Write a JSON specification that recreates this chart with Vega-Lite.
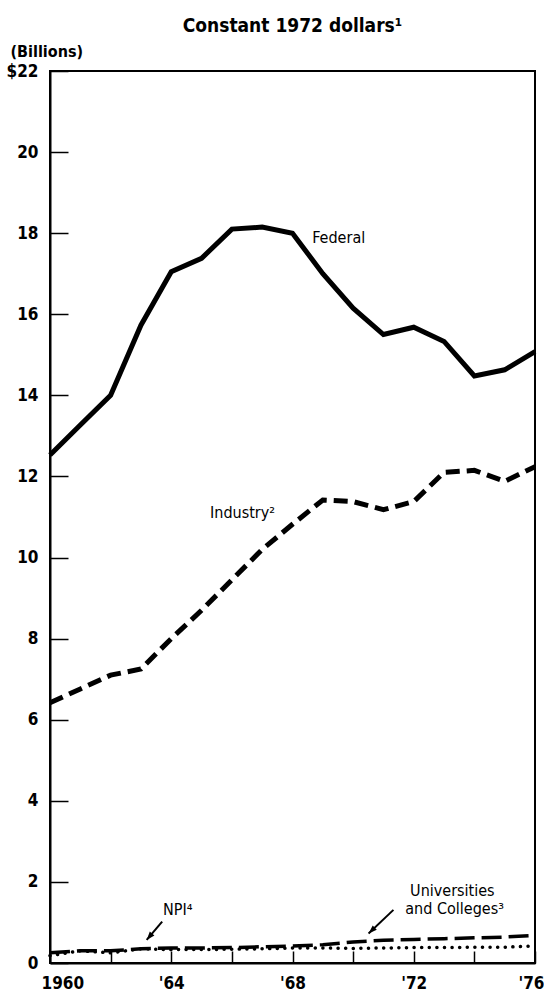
{
  "$schema": "https://vega.github.io/schema/vega-lite/v6.json",
  "width": 485,
  "height": 892,
  "autosize": {"type": "none"},
  "padding": {"left": 50, "top": 71, "right": 9, "bottom": 30},
  "background": "white",
  "title": {
    "text": "Constant 1972 dollars¹",
    "font": "DejaVu Sans Condensed, DejaVu Sans, sans-serif",
    "fontSize": 19,
    "fontWeight": "bold",
    "color": "black",
    "anchor": "middle",
    "baseline": "alphabetic",
    "offset": -8
  },
  "config": {
    "view": {"stroke": "black", "strokeWidth": 2},
    "font": "DejaVu Sans Condensed, DejaVu Sans, sans-serif",
    "axis": {
      "grid": false,
      "domainColor": "black",
      "domainWidth": 2,
      "tickColor": "black",
      "tickWidth": 1.5,
      "labelColor": "black",
      "labelFont": "DejaVu Sans Condensed, DejaVu Sans, sans-serif",
      "labelFontSize": 17,
      "labelFontWeight": "bold",
      "titleColor": "black",
      "titleFont": "DejaVu Sans Condensed, DejaVu Sans, sans-serif",
      "titleFontSize": 16,
      "titleFontWeight": "bold"
    }
  },
  "datasets": {
    "rd": [
      {"series": "Federal", "year": 1960, "value": 12.53},
      {"series": "Federal", "year": 1961, "value": 13.27},
      {"series": "Federal", "year": 1962, "value": 14.0},
      {"series": "Federal", "year": 1963, "value": 15.73},
      {"series": "Federal", "year": 1964, "value": 17.05},
      {"series": "Federal", "year": 1965, "value": 17.38},
      {"series": "Federal", "year": 1966, "value": 18.1},
      {"series": "Federal", "year": 1967, "value": 18.15},
      {"series": "Federal", "year": 1968, "value": 18.0},
      {"series": "Federal", "year": 1969, "value": 17.0},
      {"series": "Federal", "year": 1970, "value": 16.15},
      {"series": "Federal", "year": 1971, "value": 15.5},
      {"series": "Federal", "year": 1972, "value": 15.68},
      {"series": "Federal", "year": 1973, "value": 15.33},
      {"series": "Federal", "year": 1974, "value": 14.48},
      {"series": "Federal", "year": 1975, "value": 14.63},
      {"series": "Federal", "year": 1976, "value": 15.08},
      {"series": "Industry", "year": 1960, "value": 6.42},
      {"series": "Industry", "year": 1961, "value": 6.76},
      {"series": "Industry", "year": 1962, "value": 7.1},
      {"series": "Industry", "year": 1963, "value": 7.25},
      {"series": "Industry", "year": 1964, "value": 8.0},
      {"series": "Industry", "year": 1965, "value": 8.7},
      {"series": "Industry", "year": 1966, "value": 9.45},
      {"series": "Industry", "year": 1967, "value": 10.2},
      {"series": "Industry", "year": 1968, "value": 10.82},
      {"series": "Industry", "year": 1969, "value": 11.42},
      {"series": "Industry", "year": 1970, "value": 11.38},
      {"series": "Industry", "year": 1971, "value": 11.18},
      {"series": "Industry", "year": 1972, "value": 11.38},
      {"series": "Industry", "year": 1973, "value": 12.1},
      {"series": "Industry", "year": 1974, "value": 12.15},
      {"series": "Industry", "year": 1975, "value": 11.88},
      {"series": "Industry", "year": 1976, "value": 12.24},
      {"series": "Universities and Colleges", "year": 1960, "value": 0.25},
      {"series": "Universities and Colleges", "year": 1961, "value": 0.3},
      {"series": "Universities and Colleges", "year": 1962, "value": 0.3},
      {"series": "Universities and Colleges", "year": 1963, "value": 0.35},
      {"series": "Universities and Colleges", "year": 1964, "value": 0.37},
      {"series": "Universities and Colleges", "year": 1965, "value": 0.37},
      {"series": "Universities and Colleges", "year": 1966, "value": 0.38},
      {"series": "Universities and Colleges", "year": 1967, "value": 0.4},
      {"series": "Universities and Colleges", "year": 1968, "value": 0.42},
      {"series": "Universities and Colleges", "year": 1969, "value": 0.45},
      {"series": "Universities and Colleges", "year": 1970, "value": 0.52},
      {"series": "Universities and Colleges", "year": 1971, "value": 0.56},
      {"series": "Universities and Colleges", "year": 1972, "value": 0.58},
      {"series": "Universities and Colleges", "year": 1973, "value": 0.6},
      {"series": "Universities and Colleges", "year": 1974, "value": 0.62},
      {"series": "Universities and Colleges", "year": 1975, "value": 0.64},
      {"series": "Universities and Colleges", "year": 1976, "value": 0.68},
      {"series": "NPI", "year": 1960, "value": 0.18},
      {"series": "NPI", "year": 1961, "value": 0.3},
      {"series": "NPI", "year": 1962, "value": 0.25},
      {"series": "NPI", "year": 1963, "value": 0.35},
      {"series": "NPI", "year": 1964, "value": 0.33},
      {"series": "NPI", "year": 1965, "value": 0.33},
      {"series": "NPI", "year": 1966, "value": 0.34},
      {"series": "NPI", "year": 1967, "value": 0.35},
      {"series": "NPI", "year": 1968, "value": 0.37},
      {"series": "NPI", "year": 1969, "value": 0.37},
      {"series": "NPI", "year": 1970, "value": 0.36},
      {"series": "NPI", "year": 1971, "value": 0.37},
      {"series": "NPI", "year": 1972, "value": 0.38},
      {"series": "NPI", "year": 1973, "value": 0.38},
      {"series": "NPI", "year": 1974, "value": 0.39},
      {"series": "NPI", "year": 1975, "value": 0.39},
      {"series": "NPI", "year": 1976, "value": 0.42}
    ],
    "labels": [
      {"text": "Federal", "year": 1968.65, "value": 17.88},
      {"text": "Industry²", "year": 1965.28, "value": 11.1},
      {"text": "NPI⁴", "year": 1963.73, "value": 1.31},
      {"text": "Universities", "year": 1971.88, "value": 1.78},
      {"text": "and Colleges³", "year": 1971.72, "value": 1.33}
    ],
    "arrows": [
      {"target": "NPI", "year": 1963.7, "value": 1.02, "year2": 1963.19, "value2": 0.57},
      {"target": "Universities and Colleges", "year": 1971.33, "value": 1.31, "year2": 1970.51, "value2": 0.73}
    ]
  },
  "layer": [
    {
      "data": {"name": "rd"},
      "transform": [{"filter": "datum.series == 'NPI'"}],
      "mark": {"type": "line", "color": "black", "strokeWidth": 3.5, "strokeDash": [0.1, 7.5], "strokeCap": "round"},
      "encoding": {
        "x": {"field": "year", "type": "quantitative",
          "scale": {"domain": [1960, 1976], "nice": false, "zero": false},
          "axis": {
            "title": null,
            "values": [1960, 1961, 1962, 1963, 1964, 1965, 1966, 1967, 1968, 1969, 1970, 1971, 1972, 1973, 1974, 1975, 1976],
            "tickSize": -12,
            "labelPadding": 24,
            "labelFlush": true,
            "labelFlushOffset": 9,
            "labelOverlap": false,
            "labelExpr": "datum.value == 1960 ? '1960' : (datum.value % 4 == 0 ? \"'\" + substring(toString(datum.value), 2, 4) : '')"
          }
        },
        "y": {"field": "value", "type": "quantitative",
          "scale": {"domain": [0, 22], "nice": false},
          "axis": {
            "title": "(Billions)",
            "titleAngle": 0,
            "titleAlign": "left",
            "titleBaseline": "alphabetic",
            "titleX": -40,
            "titleY": -15,
            "values": [0, 2, 4, 6, 8, 10, 12, 14, 16, 18, 20, 22],
            "tickSize": -18,
            "labelPadding": 30,
            "labelOverlap": false,
            "labelExpr": "datum.value == 22 ? '$22' : datum.label"
          }
        }
      }
    },
    {
      "data": {"name": "rd"},
      "transform": [{"filter": "datum.series == 'Universities and Colleges'"}],
      "mark": {"type": "line", "color": "black", "strokeWidth": 3.5, "strokeDash": [20, 7]},
      "encoding": {
        "x": {"field": "year", "type": "quantitative"},
        "y": {"field": "value", "type": "quantitative"}
      }
    },
    {
      "data": {"name": "rd"},
      "transform": [{"filter": "datum.series == 'Industry'"}],
      "mark": {"type": "line", "color": "black", "strokeWidth": 5, "strokeDash": [14, 7]},
      "encoding": {
        "x": {"field": "year", "type": "quantitative"},
        "y": {"field": "value", "type": "quantitative"}
      }
    },
    {
      "data": {"name": "rd"},
      "transform": [{"filter": "datum.series == 'Federal'"}],
      "mark": {"type": "line", "color": "black", "strokeWidth": 5, "strokeJoin": "miter"},
      "encoding": {
        "x": {"field": "year", "type": "quantitative"},
        "y": {"field": "value", "type": "quantitative"}
      }
    },
    {
      "data": {"name": "labels"},
      "mark": {"type": "text", "align": "left", "baseline": "middle", "fontSize": 16, "fontWeight": "normal", "color": "black"},
      "encoding": {
        "x": {"field": "year", "type": "quantitative"},
        "y": {"field": "value", "type": "quantitative"},
        "text": {"field": "text"}
      }
    },
    {
      "data": {"name": "arrows"},
      "mark": {"type": "rule", "color": "black", "strokeWidth": 2},
      "encoding": {
        "x": {"field": "year", "type": "quantitative"},
        "y": {"field": "value", "type": "quantitative"},
        "x2": {"field": "year2"},
        "y2": {"field": "value2"}
      }
    },
    {
      "data": {"name": "arrows"},
      "transform": [{"filter": "datum.target == 'NPI'"}],
      "mark": {"type": "point", "filled": true, "color": "black", "opacity": 1, "size": 144, "shape": "M0,0L-0.5,1.4L0.5,1.4Z", "angle": 220},
      "encoding": {
        "x": {"field": "year2", "type": "quantitative"},
        "y": {"field": "value2", "type": "quantitative"}
      }
    },
    {
      "data": {"name": "arrows"},
      "transform": [{"filter": "datum.target == 'Universities and Colleges'"}],
      "mark": {"type": "point", "filled": true, "color": "black", "opacity": 1, "size": 144, "shape": "M0,0L-0.5,1.4L0.5,1.4Z", "angle": 227},
      "encoding": {
        "x": {"field": "year2", "type": "quantitative"},
        "y": {"field": "value2", "type": "quantitative"}
      }
    }
  ]
}
